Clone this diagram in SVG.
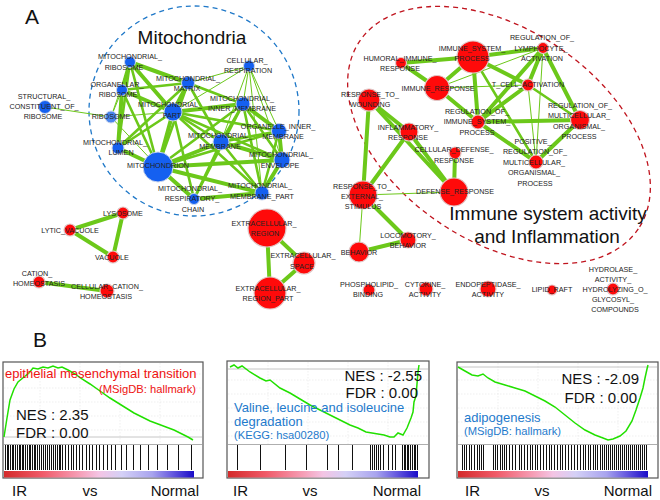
<svg xmlns="http://www.w3.org/2000/svg" width="660" height="500" viewBox="0 0 660 500">
<defs>
<linearGradient id="rank" x1="0" x2="1" y1="0" y2="0">
<stop offset="0" stop-color="#d42a2a"/>
<stop offset="0.2" stop-color="#f05a68"/>
<stop offset="0.4" stop-color="#f6a0b8"/>
<stop offset="0.5" stop-color="#f4c4e4"/>
<stop offset="0.62" stop-color="#d4d0f6"/>
<stop offset="0.78" stop-color="#a8a4ee"/>
<stop offset="0.88" stop-color="#6a5ee0"/>
<stop offset="1" stop-color="#1a0cc8"/>
</linearGradient>
</defs>
<style>
.lb{font-family:"Liberation Sans",Arial,sans-serif;font-size:7.2px;fill:#222;text-anchor:middle}
.bn{fill:#1560f0;stroke:#c8d4ec;stroke-width:1}
.rn{fill:#ff0a0a;stroke:#e0c8c8;stroke-width:1.2}
.e{stroke:#6cc81a;stroke-linecap:round;fill:none}
.w4{stroke-width:4}
.w3{stroke-width:2.6}
.w1{stroke-width:1}
.title{font-family:"Liberation Sans",Arial,sans-serif;font-size:19px;fill:#111;text-anchor:middle}
.big{font-family:"Liberation Sans",Arial,sans-serif;font-size:21px;fill:#111}
.gs{font-family:"Liberation Sans",Arial,sans-serif;font-size:15px;fill:#111}
.gname{font-family:"Liberation Sans",Arial,sans-serif;font-size:13px}
.gsrc{font-family:"Liberation Sans",Arial,sans-serif;font-size:11.2px}
.box{fill:#fff;stroke:#555;stroke-width:1.2}
.grid{stroke:#e4e4e4;stroke-width:0.6;stroke-dasharray:1.5 1.5}
.zero{stroke:#b8b8b8;stroke-width:0.8}
.curve{stroke:#22e000;stroke-width:1.5;fill:none}
.bars{stroke:#111;stroke-width:1;shape-rendering:crispEdges}
</style>
<rect width="660" height="500" fill="#fff"/>

<text class="big" x="25" y="24">A</text>
<text class="title" x="192" y="44">Mitochondria</text>
<circle cx="194" cy="111" r="105" fill="none" stroke="#1f78c8" stroke-width="1.3" stroke-dasharray="5 4"/>
<ellipse cx="499" cy="135" rx="168" ry="106" transform="rotate(34 499 135)" fill="none" stroke="#c0141e" stroke-width="1.3" stroke-dasharray="5 4"/>
<text class="title" x="548" y="220">Immune system activity</text>
<text class="title" x="547" y="243">and Inflammation</text>

<g id="connectors">
<g class="e w4">
<line x1="130" y1="62" x2="122" y2="90"/>
<line x1="130" y1="62" x2="173" y2="112"/>
<line x1="122" y1="90" x2="173" y2="112"/>
<line x1="122" y1="90" x2="118" y2="148"/>
<line x1="118" y1="148" x2="158" y2="167"/>
<line x1="173" y1="112" x2="158" y2="167"/>
<line x1="130" y1="62" x2="188" y2="83"/>
<line x1="188" y1="83" x2="173" y2="112"/>
<line x1="173" y1="112" x2="243" y2="104"/>
<line x1="158" y1="167" x2="221" y2="142"/>
<line x1="158" y1="167" x2="262" y2="193"/>
<line x1="158" y1="167" x2="282" y2="160"/>
<line x1="243" y1="104" x2="279" y2="131"/>
<line x1="279" y1="131" x2="282" y2="160"/>
<line x1="221" y1="142" x2="282" y2="160"/>
<line x1="262" y1="193" x2="282" y2="160"/>
<line x1="194" y1="199" x2="262" y2="193"/>
<line x1="158" y1="167" x2="194" y2="199"/>
</g>
<g class="e w3">
<line x1="130" y1="62" x2="118" y2="148"/>
<line x1="130" y1="62" x2="158" y2="167"/>
<line x1="122" y1="90" x2="158" y2="167"/>
<line x1="122" y1="90" x2="188" y2="83"/>
<line x1="118" y1="148" x2="173" y2="112"/>
<line x1="188" y1="83" x2="158" y2="167"/>
<line x1="173" y1="112" x2="221" y2="142"/>
<line x1="173" y1="112" x2="279" y2="131"/>
<line x1="173" y1="112" x2="282" y2="160"/>
<line x1="173" y1="112" x2="262" y2="193"/>
<line x1="173" y1="112" x2="194" y2="199"/>
<line x1="243" y1="104" x2="221" y2="142"/>
<line x1="243" y1="104" x2="282" y2="160"/>
<line x1="243" y1="104" x2="262" y2="193"/>
<line x1="243" y1="104" x2="158" y2="167"/>
<line x1="279" y1="131" x2="221" y2="142"/>
<line x1="279" y1="131" x2="262" y2="193"/>
<line x1="279" y1="131" x2="158" y2="167"/>
<line x1="221" y1="142" x2="262" y2="193"/>
<line x1="221" y1="142" x2="194" y2="199"/>
<line x1="243" y1="104" x2="194" y2="199"/>
<line x1="188" y1="83" x2="243" y2="104"/>
<line x1="118" y1="148" x2="188" y2="83"/>
<line x1="188" y1="83" x2="221" y2="142"/>
</g>
<g class="e w1">
<line x1="111" y1="117" x2="45" y2="107"/>
<line x1="111" y1="117" x2="173" y2="112"/>
<line x1="111" y1="117" x2="158" y2="167"/>
<line x1="111" y1="117" x2="122" y2="90"/>
<line x1="111" y1="117" x2="130" y2="62"/>
<line x1="188" y1="83" x2="249" y2="66"/>
<line x1="173" y1="112" x2="249" y2="66"/>
<line x1="249" y1="66" x2="243" y2="104"/>
<line x1="249" y1="66" x2="279" y2="131"/>
<line x1="249" y1="66" x2="282" y2="160"/>
<line x1="249" y1="66" x2="262" y2="193"/>
<line x1="249" y1="66" x2="221" y2="142"/>
</g>
<g class="e w4">
<line x1="123" y1="213" x2="70" y2="230"/>
<line x1="70" y1="230" x2="113" y2="257"/>
<line x1="123" y1="213" x2="113" y2="257"/>
<line x1="39" y1="282" x2="107" y2="291"/>
<line x1="267" y1="228" x2="304" y2="263"/>
<line x1="267" y1="228" x2="270" y2="293"/>
<line x1="304" y1="263" x2="270" y2="293"/>
</g>
<g class="e w4">
<line x1="401" y1="63" x2="473" y2="57"/>
<line x1="473" y1="57" x2="543" y2="48"/>
<line x1="473" y1="57" x2="437" y2="88"/>
<line x1="473" y1="57" x2="478" y2="122"/>
<line x1="473" y1="57" x2="528" y2="85"/>
<line x1="401" y1="63" x2="437" y2="88"/>
<line x1="437" y1="88" x2="478" y2="122"/>
<line x1="543" y1="48" x2="528" y2="85"/>
<line x1="543" y1="48" x2="478" y2="122"/>
<line x1="543" y1="48" x2="580" y2="120"/>
<line x1="528" y1="85" x2="478" y2="122"/>
<line x1="478" y1="122" x2="580" y2="120"/>
<line x1="478" y1="122" x2="536" y2="162"/>
<line x1="580" y1="120" x2="536" y2="162"/>
<line x1="369" y1="100" x2="409" y2="132"/>
<line x1="369" y1="100" x2="363" y2="195"/>
<line x1="409" y1="132" x2="363" y2="195"/>
<line x1="455" y1="153" x2="454" y2="192"/>
<line x1="409" y1="132" x2="454" y2="192"/>
<line x1="369" y1="100" x2="454" y2="192"/>
<line x1="363" y1="195" x2="408" y2="240"/>
<line x1="359" y1="252" x2="408" y2="240"/>
</g>
<g class="e w3">
<line x1="473" y1="57" x2="536" y2="162"/>
<line x1="528" y1="85" x2="580" y2="120"/>
</g>
<g class="e w1">
<line x1="437" y1="88" x2="543" y2="48"/>
<line x1="437" y1="88" x2="528" y2="85"/>
<line x1="543" y1="48" x2="536" y2="162"/>
<line x1="528" y1="85" x2="536" y2="162"/>
<line x1="363" y1="195" x2="454" y2="192"/>
<line x1="363" y1="195" x2="359" y2="252"/>
</g>
</g>

<g id="n_mito_ribosome"><circle class="bn" cx="130" cy="62" r="5.5"/><text class="lb" x="130" y="59">MITOCHONDRIAL_</text><text class="lb" x="124" y="70">RIBOSOME</text></g>
<g id="n_organellar_ribosome"><circle class="bn" cx="122" cy="90" r="5.5"/><text class="lb" x="117" y="87">ORGANELLAR_</text><text class="lb" x="118" y="97">RIBOSOME</text></g>
<g id="n_ribosome"><circle cx="111" cy="117" r="6" fill="#4a86ec" stroke="#c8d4ec" stroke-width="1"/><text class="lb" x="111" y="119">RIBOSOME</text></g>
<g id="n_structural"><circle class="bn" cx="45" cy="107" r="6.5"/><text class="lb" x="44" y="99">STRUCTURAL_</text><text class="lb" x="44" y="109">CONSTITUENT_OF_</text><text class="lb" x="43" y="119">RIBOSOME</text></g>
<g id="n_mito_lumen"><circle class="bn" cx="118" cy="148" r="6"/><text class="lb" x="115" y="145">MITOCHONDRIAL_</text><text class="lb" x="121" y="155">LUMEN</text></g>
<g id="n_mitochondrion"><circle class="bn" cx="158" cy="167" r="15"/><text class="lb" x="158" y="168">MITOCHONDRION</text></g>
<g id="n_mito_part"><circle class="bn" cx="173" cy="112" r="9"/><text class="lb" x="170" y="107">MITOCHONDRIAL_</text><text class="lb" x="172" y="118">PART</text></g>
<g id="n_mito_matrix"><circle class="bn" cx="188" cy="83" r="6.5"/><text class="lb" x="188" y="81">MITOCHONDRIAL_</text><text class="lb" x="187" y="91">MATRIX</text></g>
<g id="n_cell_resp"><circle class="bn" cx="249" cy="66" r="5.5"/><text class="lb" x="247" y="63">CELLULAR_</text><text class="lb" x="248" y="73">RESPIRATION</text></g>
<g id="n_mito_inner_membrane"><circle class="bn" cx="243" cy="104" r="7"/><text class="lb" x="242" y="101">MITOCHONDRIAL_</text><text class="lb" x="242" y="111">INNER_MEMBRANE</text></g>
<g id="n_organelle_inner_membrane"><circle class="bn" cx="279" cy="131" r="7.5"/><text class="lb" x="278" y="129">ORGANELLE_INNER_</text><text class="lb" x="283" y="139">MEMBRANE</text></g>
<g id="n_mito_membrane"><circle class="bn" cx="221" cy="142" r="8"/><text class="lb" x="220" y="138">MITOCHONDRIAL_</text><text class="lb" x="220" y="149">MEMBRANE</text></g>
<g id="n_mito_envelope"><circle class="bn" cx="282" cy="160" r="8"/><text class="lb" x="281" y="157">MITOCHONDRIAL_</text><text class="lb" x="280" y="168">ENVELOPE</text></g>
<g id="n_mito_membrane_part"><circle class="bn" cx="262" cy="193" r="7"/><text class="lb" x="260" y="188">MITOCHONDRIAL_</text><text class="lb" x="262" y="199">MEMBRANE_PART</text></g>
<g id="n_mito_resp_chain"><circle class="bn" cx="194" cy="199" r="5.5"/><text class="lb" x="190" y="191">MITOCHONDRIAL_</text><text class="lb" x="192" y="201">RESPIRATORY_</text><text class="lb" x="193" y="212">CHAIN</text></g>

<g id="n_lysosome"><circle class="rn" cx="123" cy="213" r="6"/><text class="lb" x="123" y="216">LYSOSOME</text></g>
<g id="n_lytic_vacuole"><circle class="rn" cx="70" cy="230" r="6"/><text class="lb" x="70" y="233">LYTIC_VACUOLE</text></g>
<g id="n_vacuole"><circle class="rn" cx="113" cy="257" r="6"/><text class="lb" x="112" y="260">VACUOLE</text></g>
<g id="n_cation_homeostasis"><circle class="rn" cx="39" cy="282" r="6"/><text class="lb" x="37" y="276">CATION_</text><text class="lb" x="39" y="286">HOMEOSTASIS</text></g>
<g id="n_cellular_cation_homeostasis"><circle class="rn" cx="107" cy="291" r="7"/><text class="lb" x="107" y="289">CELLULAR_CATION_</text><text class="lb" x="106" y="299">HOMEOSTASIS</text></g>
<g id="n_extracellular_region"><circle class="rn" cx="267" cy="228" r="19"/><text class="lb" x="264" y="226">EXTRACELLULAR_</text><text class="lb" x="265" y="236">REGION</text></g>
<g id="n_extracellular_space"><circle class="rn" cx="304" cy="263" r="11"/><text class="lb" x="303" y="258">EXTRACELLULAR_</text><text class="lb" x="302" y="269">SPACE</text></g>
<g id="n_extracellular_region_part"><circle class="rn" cx="270" cy="293" r="16"/><text class="lb" x="268" y="291">EXTRACELLULAR_</text><text class="lb" x="268" y="301">REGION_PART</text></g>

<g id="n_immune_system_process"><circle class="rn" cx="473" cy="57" r="16"/><text class="lb" x="472" y="51">IMMUNE_SYSTEM_</text><text class="lb" x="472" y="61">PROCESS</text></g>
<g id="n_humoral"><circle class="rn" cx="401" cy="63" r="5.5"/><text class="lb" x="400" y="61">HUMORAL_IMMUNE_</text><text class="lb" x="400" y="71">RESPONSE</text></g>
<g id="n_reg_lymphocyte"><circle class="rn" cx="543" cy="48" r="5.5"/><text class="lb" x="542" y="40">REGULATION_OF_</text><text class="lb" x="541" y="51">LYMPHOCYTE_</text><text class="lb" x="542" y="61">ACTIVATION</text></g>
<g id="n_immune_response"><circle class="rn" cx="437" cy="88" r="12.5"/><text class="lb" x="438" y="91">IMMUNE_RESPONSE</text></g>
<g id="n_t_cell"><circle class="rn" cx="528" cy="85" r="6"/><text class="lb" x="528" y="87">T_CELL_ACTIVATION</text></g>
<g id="n_wounding"><circle class="rn" cx="369" cy="100" r="11"/><text class="lb" x="370" y="97">RESPONSE_TO_</text><text class="lb" x="370" y="107">WOUNDING</text></g>
<g id="n_reg_immune"><circle class="rn" cx="478" cy="122" r="7"/><text class="lb" x="477" y="114">REGULATION_OF_</text><text class="lb" x="477" y="124">IMMUNE_SYSTEM_</text><text class="lb" x="477" y="135">PROCESS</text></g>
<g id="n_reg_multi"><circle class="rn" cx="580" cy="120" r="9.5"/><text class="lb" x="580" y="108">REGULATION_OF_</text><text class="lb" x="579" y="118">MULTICELLULAR_</text><text class="lb" x="579" y="129">ORGANISMAL_</text><text class="lb" x="579" y="139">PROCESS</text></g>
<g id="n_inflammatory"><circle class="rn" cx="409" cy="132" r="9"/><text class="lb" x="408" y="130">INFLAMMATORY_</text><text class="lb" x="408" y="140">RESPONSE</text></g>
<g id="n_cellular_defense"><circle class="rn" cx="455" cy="153" r="6"/><text class="lb" x="454" y="152">CELLULAR_DEFENSE_</text><text class="lb" x="454" y="163">RESPONSE</text></g>
<g id="n_pos_reg_multi"><circle class="rn" cx="536" cy="162" r="7"/><text class="lb" x="533" y="144">POSITIVE_</text><text class="lb" x="535" y="154">REGULATION_OF_</text><text class="lb" x="534" y="165">MULTICELLULAR_</text><text class="lb" x="534" y="175">ORGANISMAL_</text><text class="lb" x="535" y="186">PROCESS</text></g>
<g id="n_defense"><circle class="rn" cx="454" cy="192" r="14"/><text class="lb" x="455" y="194">DEFENSE_RESPONSE</text></g>
<g id="n_external"><circle class="rn" cx="363" cy="195" r="14"/><text class="lb" x="362" y="189">RESPONSE_TO_</text><text class="lb" x="362" y="199">EXTERNAL_</text><text class="lb" x="363" y="209">STIMULUS</text></g>
<g id="n_locomotory"><circle class="rn" cx="408" cy="240" r="8"/><text class="lb" x="408" y="238">LOCOMOTORY_</text><text class="lb" x="408" y="248">BEHAVIOR</text></g>
<g id="n_behavior"><circle class="rn" cx="359" cy="252" r="10"/><text class="lb" x="359" y="255">BEHAVIOR</text></g>
<g id="n_phospholipid"><circle class="rn" cx="369" cy="290" r="6"/><text class="lb" x="369" y="287">PHOSPHOLIPID_</text><text class="lb" x="368" y="297">BINDING</text></g>
<g id="n_cytokine"><circle class="rn" cx="426" cy="289" r="7"/><text class="lb" x="425" y="287">CYTOKINE_</text><text class="lb" x="425" y="297">ACTIVITY</text></g>
<g id="n_endopeptidase"><circle class="rn" cx="488" cy="289" r="8"/><text class="lb" x="488" y="287">ENDOPEPTIDASE_</text><text class="lb" x="488" y="297">ACTIVITY</text></g>
<g id="n_lipid_raft"><circle class="rn" cx="552" cy="290" r="5"/><text class="lb" x="552" y="292">LIPID_RAFT</text></g>
<g id="n_hydrolase"><circle class="rn" cx="613" cy="289" r="6"/><text class="lb" x="613" y="272">HYDROLASE_</text><text class="lb" x="613" y="282">ACTIVITY_</text><text class="lb" x="615" y="292">HYDROLYZING_O_</text><text class="lb" x="613" y="302">GLYCOSYL_</text><text class="lb" x="615" y="312">COMPOUNDS</text></g>

<text class="big" x="33" y="347">B</text>

<g id="gsea1">
<rect class="box" x="3" y="362" width="200" height="116"/>
<path class="grid" d="M4 374H202M4 388H202M4 402H202M4 416H202M4 430H202M40 363V444M80 363V444M120 363V444M160 363V444"/>
<line class="zero" x1="4" y1="437" x2="202" y2="437"/>
<line x1="4" y1="444.5" x2="202" y2="444.5" stroke="#999" stroke-width="0.8"/>
<path class="bars" d="M5 445V470M7 445V470M8 445V470M10 445V470M12 445V470M13 445V470M15 445V470M17 445V470M19 445V470M20 445V470M22 445V470M23 445V470M25 445V470M27 445V470M29 445V470M30 445V470M32 445V470M34 445V470M35 445V470M37 445V470M39 445V470M41 445V470M43 445V470M45 445V470M47 445V470M49 445V470M51 445V470M53 445V470M55 445V470M57 445V470M59 445V470M60 445V470M62 445V470M65 445V470M68 445V470M71 445V470M73 445V470M76 445V470M79 445V470M82 445V470M86 445V470M89 445V470M92 445V470M96 445V470M99 445V470M103 445V470M107 445V470M111 445V470M115 445V470M121 445V470M126 445V470M133 445V470M140 445V470M148 445V470M157 445V470M167 445V470M178 445V470M191 445V470"/>
<rect x="4" y="471" width="190" height="6.5" fill="url(#rank)"/>
<path class="curve" d="M4 437L7 418L10 400L14 389L18 382L24 377L29 373L33 368L38 369L43 367L48 368L53 366L58 368L62 367L68 370L75 374L82 379L90 384L100 391L110 398L118 403L126 408L134 413L142 417L150 421L158 424L166 427L174 430L182 434L188 437L193 440"/>
<text class="gname" x="5" y="378" fill="#ee1111">epithelial mesenchymal transition</text>
<text class="gsrc" x="196" y="393" fill="#ee1111" text-anchor="end">(MSigDB: hallmark)</text>
<text class="gs" x="16" y="420">NES : 2.35</text>
<text class="gs" x="16" y="438">FDR : 0.00</text>
<text class="gs" x="12" y="496">IR</text>
<text class="gs" x="90" y="496" text-anchor="middle">vs</text>
<text class="gs" x="199" y="496" text-anchor="end">Normal</text>
</g>

<g id="gsea2">
<rect class="box" x="227" y="361" width="202" height="117"/>
<path class="grid" d="M228 380H428M228 394H428M228 408H428M228 422H428M228 436H428M268 362V444M308 362V444M348 362V444M388 362V444"/>
<line class="zero" x1="228" y1="369" x2="428" y2="369"/>
<line x1="228" y1="444.5" x2="428" y2="444.5" stroke="#999" stroke-width="0.8"/>
<path class="bars" d="M237 445V470M260 445V470M285 445V470M306 445V470M327 445V470M338 445V470M352 445V470M370 445V470M372 445V470M374 445V470M376 445V470M378 445V470M380 445V470M383 445V470M388 445V470M392 445V470M395 445V470M402 445V470M404 445V470M405 445V470M407 445V470M408 445V470M410 445V470M412 445V470M414 445V470M415 445V470M417 445V470"/>
<rect x="228" y="471" width="190" height="6.5" fill="url(#rank)"/>
<path class="curve" d="M230 367L234 365L238 368L242 366L250 372L260 378L266 381L270 380L280 388L290 393L300 399L310 405L320 410L330 415L340 420L350 425L358 428L366 432L372 433L378 434L384 435L390 437L394 437L398 433L403 435L407 428L409 423L411 418L413 412L414 402L416 396L417 384L418 372L419 365"/>
<text class="gs" x="422" y="381" text-anchor="end">NES : -2.55</text>
<text class="gs" x="418" y="398" text-anchor="end">FDR : 0.00</text>
<text class="gname" x="234" y="412" fill="#1e7acc">Valine, leucine and isoleucine</text>
<text class="gname" x="234" y="426" fill="#1e7acc">degradation</text>
<text class="gsrc" x="234" y="439" fill="#1e7acc">(KEGG: hsa00280)</text>
<text class="gs" x="233" y="496">IR</text>
<text class="gs" x="310" y="496" text-anchor="middle">vs</text>
<text class="gs" x="421" y="496" text-anchor="end">Normal</text>
</g>

<g id="gsea3">
<rect class="box" x="457" y="362" width="201" height="116"/>
<path class="grid" d="M458 380H657M458 394H657M458 408H657M458 422H657M458 436H657M498 363V444M538 363V444M578 363V444M618 363V444"/>
<line class="zero" x1="458" y1="367" x2="657" y2="367"/>
<line x1="458" y1="444.5" x2="657" y2="444.5" stroke="#999" stroke-width="0.8"/>
<path class="bars" d="M462 445V470M464 445V470M466 445V470M469 445V470M471 445V470M474 445V470M477 445V470M479 445V470M481 445V470M483 445V470M493 445V470M495 445V470M497 445V470M500 445V470M502 445V470M504 445V470M506 445V470M509 445V470M512 445V470M515 445V470M519 445V470M521 445V470M524 445V470M527 445V470M530 445V470M532 445V470M535 445V470M537 445V470M540 445V470M543 445V470M546 445V470M549 445V470M551 445V470M554 445V470M557 445V470M560 445V470M562 445V470M565 445V470M568 445V470M571 445V470M574 445V470M577 445V470M580 445V470M583 445V470M585 445V470M588 445V470M590 445V470M593 445V470M595 445V470M597 445V470M600 445V470M602 445V470M604 445V470M606 445V470M608 445V470M610 445V470M612 445V470M614 445V470M616 445V470M618 445V470M620 445V470M622 445V470M624 445V470M626 445V470M628 445V470M630 445V470M632 445V470M634 445V470M636 445V470M638 445V470M640 445V470M642 445V470M644 445V470M646 445V470"/>
<rect x="458" y="471" width="190" height="6.5" fill="url(#rank)"/>
<path class="curve" d="M458 367L465 371L472 375L478 376L483 374L488 378L495 382L505 385L515 388L525 391L535 396L545 401L555 407L565 415L575 423L585 430L595 435L603 438L608 440L613 439L620 436L626 431L632 421L636 410L640 398L643 388L645 378L647 369L648 365"/>
<text class="gs" x="639" y="384" text-anchor="end">NES : -2.09</text>
<text class="gs" x="637" y="403" text-anchor="end">FDR : 0.00</text>
<text class="gname" x="464" y="422" fill="#1e7acc">adipogenesis</text>
<text class="gsrc" x="464" y="435" fill="#1e7acc">(MSigDB: hallmark)</text>
<text class="gs" x="465" y="496">IR</text>
<text class="gs" x="542" y="496" text-anchor="middle">vs</text>
<text class="gs" x="652" y="496" text-anchor="end">Normal</text>
</g>
</svg>
